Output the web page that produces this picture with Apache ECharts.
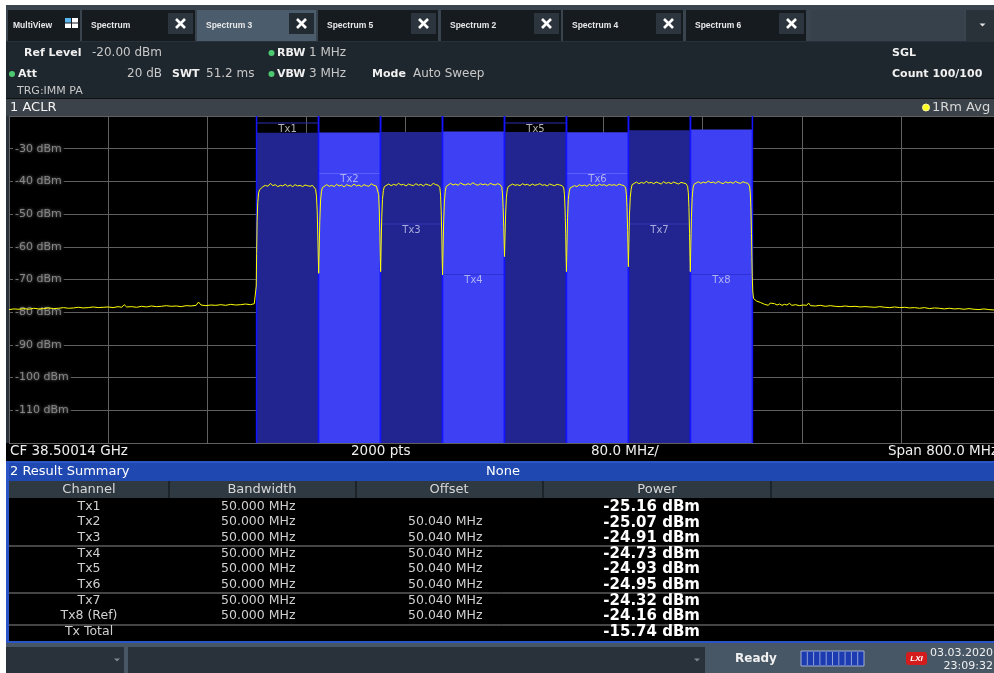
<!DOCTYPE html>
<html><head><meta charset="utf-8">
<script src="https://cdn.jsdelivr.net/npm/echarts@6/dist/echarts.min.js"></script>
<style>html,body{margin:0;padding:0;background:#fff;}#c{width:994px;height:673px;}</style>
</head><body><div id="c"></div>
<script>
// ---------- data ----------
const channelNames = ['Tx1','Tx2','Tx3','Tx4','Tx5','Tx6','Tx7','Tx8'];
const tableChannelNames = ['Tx1','Tx2','Tx3','Tx4','Tx5','Tx6','Tx7','Tx8 (Ref)','Tx Total'];
const channelCentersMHz = [-175.14,-125.10,-75.06,-25.02,25.02,75.06,125.10,175.14];
const channelBandwidthMHz = [50,50,50,50,50,50,50,50];
const bandwidthLabels = ['50.000 MHz','50.000 MHz','50.000 MHz','50.000 MHz','50.000 MHz','50.000 MHz','50.000 MHz','50.000 MHz'];
const offsetLabels = ['','50.040 MHz','50.040 MHz','50.040 MHz','50.040 MHz','50.040 MHz','50.040 MHz','50.040 MHz'];
const channelPowerDbm = [-25.16,-25.07,-24.91,-24.73,-24.93,-24.95,-24.32,-24.16];
const totalPowerDbm = -15.74;
const yAxisMin = -120, yAxisMax = -20, yAxisStep = 10;
const yTickLabels = [-110,-100,-90,-80,-70,-60,-50,-40,-30];
const xAxisMin = -400, xAxisMax = 400, xAxisStep = 80;
// trace: [offset from CF in MHz, level dBm]
const trace = [
[-400,-79.2],[-396,-79.0],[-392,-79.1],[-388,-78.9],[-384,-79.1],[-380,-78.8],[-376,-79.0],[-372,-78.9],[-368,-78.7],[-364,-78.9],[-360,-78.8],[-356,-78.6],[-352,-78.8],[-348,-78.7],[-344,-78.5],[-340,-78.7],[-336,-78.6],[-332,-78.4],[-328,-78.6],[-324,-78.5],[-320,-78.4],[-316,-78.6],[-312,-78.3],[-309,-78.5],[-307,-77.7],[-305,-78.4],[-301,-78.3],[-297,-78.5],[-293,-78.2],[-289,-78.4],[-285,-78.1],[-281,-78.3],[-277,-78.2],[-273,-78.0],[-269,-78.2],[-265,-78.1],[-261,-78.3],[-257,-78.0],[-253,-78.1],[-249,-77.9],[-247,-76.9],[-245,-77.8],[-241,-78.0],[-237,-77.8],[-233,-77.9],[-229,-77.7],[-225,-77.9],[-221,-77.6],[-217,-77.8],[-213,-77.7],[-209,-77.5],[-205,-77.7],[-202,-77.4],[-200.8,-77.2],[-200.4,-72],[-200.1,-62],[-199.7,-52],[-199.2,-46.5],[-198.5,-43.5],[-197.6,-42.5],
[-196.5,-41.9],[-195,-41.6],[-193,-41.2],[-191,-41.5],[-189,-40.6],[-187,-41.3],[-185,-41.0],[-183,-41.6],[-181,-41.2],[-179,-41.4],[-177,-40.9],[-175,-41.5],[-173,-41.1],[-171,-41.6],[-169,-41.0],[-167,-41.4],[-165,-41.2],[-163,-41.6],[-161,-41.1],[-159,-41.3],[-157,-41.5],[-155,-41.2],[-153.5,-41.6],[-152.5,-42.4],
[-151.8,-44.5],[-151.2,-49],[-150.7,-57],[-150.3,-64],[-150,-68.1],[-149.6,-61],[-149.1,-52],[-148.5,-46],[-147.8,-43.2],
[-147,-41.9],[-145.5,-41.3],[-143.5,-41.0],[-141.5,-41.5],[-139.5,-41.2],[-137.5,-41.6],[-135.5,-40.9],[-133.5,-41.4],[-131.5,-41.1],[-129.5,-41.7],[-127.5,-41.0],[-125.5,-41.3],[-123.5,-41.5],[-121.5,-40.8],[-119.5,-41.4],[-117.5,-41.1],[-115.5,-41.6],[-113.5,-41.0],[-111.5,-41.3],[-109.5,-41.5],[-107.5,-40.7],[-105.5,-41.2],[-103.5,-41.4],[-102.2,-42.0],
[-101.6,-44.0],[-101.1,-48.5],[-100.6,-56],[-100.3,-63],[-100,-67.6],[-99.6,-60],[-99.1,-51],[-98.5,-45.5],[-97.8,-42.8],
[-97,-41.6],[-95.5,-41.0],[-93.5,-40.8],[-91.5,-41.3],[-89.5,-40.9],[-87.5,-41.2],[-85.5,-40.6],[-83.5,-41.1],[-81.5,-40.9],[-79.5,-41.4],[-77.5,-40.8],[-75.5,-41.1],[-73.5,-41.3],[-71.5,-40.7],[-69.5,-41.2],[-67.5,-40.9],[-65.5,-41.4],[-63.5,-40.8],[-61.5,-41.1],[-59.5,-41.3],[-57.5,-40.6],[-55.5,-41.0],[-53.5,-41.2],[-52.2,-41.9],
[-51.6,-44.2],[-51.1,-49],[-50.6,-57],[-50.3,-64],[-50,-68.6],[-49.6,-61],[-49.1,-52],[-48.5,-46],[-47.8,-43.0],
[-47,-41.5],[-45.5,-40.9],[-43.5,-40.6],[-41.5,-41.1],[-39.5,-40.8],[-37.5,-41.2],[-35.5,-40.5],[-33.5,-40.9],[-31.5,-41.1],[-29.5,-40.7],[-27.5,-41.0],[-25.5,-40.4],[-23.5,-40.9],[-21.5,-41.2],[-19.5,-40.7],[-17.5,-41.0],[-15.5,-40.8],[-13.5,-41.2],[-11.5,-40.6],[-9.5,-40.9],[-7.5,-41.1],[-5.5,-40.7],[-3.5,-41.0],[-2.2,-41.8],
[-1.6,-43.8],[-1.1,-48],[-0.6,-54],[-0.3,-59],[0,-63.0],[0.4,-57],[0.9,-50],[1.5,-45],[2.2,-42.6],
[3,-41.6],[4.5,-41.0],[6.5,-40.8],[8.5,-41.2],[10.5,-41.0],[12.5,-41.3],[14.5,-40.7],[16.5,-41.1],[18.5,-40.9],[20.5,-41.3],[22.5,-40.8],[24.5,-41.2],[26.5,-41.0],[28.5,-40.7],[30.5,-41.2],[32.5,-41.0],[34.5,-41.4],[36.5,-40.8],[38.5,-41.1],[40.5,-41.3],[42.5,-40.9],[44.5,-41.1],[46.5,-41.3],[47.8,-42.0],
[48.4,-44.0],[48.9,-48.5],[49.4,-56],[49.7,-63],[50,-67.6],[50.4,-60],[50.9,-51],[51.5,-45.5],[52.2,-43.2],
[53,-42.0],[54.5,-41.6],[56.5,-41.3],[58.5,-41.6],[60.5,-41.0],[62.5,-41.4],[64.5,-41.1],[66.5,-41.5],[68.5,-40.9],[70.5,-41.3],[72.5,-41.0],[74.5,-41.4],[76.5,-40.8],[78.5,-41.2],[80.5,-41.0],[82.5,-41.4],[84.5,-40.9],[86.5,-41.2],[88.5,-41.0],[90.5,-41.3],[92.5,-40.8],[94.5,-41.1],[96.5,-41.3],[97.8,-42.0],
[98.4,-44.0],[98.9,-48],[99.4,-55],[99.7,-61],[100,-66.1],[100.4,-59],[100.9,-50],[101.5,-45],[102.2,-42.5],
[103,-41.0],[104.5,-40.5],[106.5,-40.2],[108.5,-40.7],[110.5,-40.3],[112.5,-40.6],[114.5,-40.0],[116.5,-40.5],[118.5,-40.3],[120.5,-40.7],[122.5,-40.2],[124.5,-40.5],[126.5,-40.8],[128.5,-40.1],[130.5,-40.6],[132.5,-40.3],[134.5,-40.7],[136.5,-40.2],[138.5,-40.5],[140.5,-40.8],[142.5,-40.3],[144.5,-40.5],[146.5,-40.7],[147.8,-41.5],
[148.4,-43.5],[148.9,-48],[149.4,-56],[149.7,-63],[150,-67.6],[150.4,-60],[150.9,-51],[151.5,-45],[152.2,-42.0],
[153,-40.9],[154.5,-40.4],[156.5,-40.1],[158.5,-40.6],[160.5,-40.2],[162.5,-40.5],[164.5,-39.9],[166.5,-40.4],[168.5,-40.2],[170.5,-40.6],[172.5,-40.0],[174.5,-40.4],[176.5,-40.7],[178.5,-40.1],[180.5,-40.5],[182.5,-40.2],[184.5,-40.6],[186.5,-40.0],[188.5,-40.4],[190.5,-40.6],[192.5,-40.1],[194.5,-40.4],[196.5,-40.6],[197.8,-41.4],
[198.4,-43.5],[198.9,-48],[199.4,-56],[199.7,-63],[200,-69],[200.4,-73.5],[201,-75.8],[202,-76.3],[203.5,-76.6],[205,-76.5],[206.5,-77.0],[208,-76.7],[210,-77.6],[211.5,-77.0],[213,-77.9],[214.5,-77.2],[216,-77.7],[218,-77.4],[220,-77.8],[222,-77.5],[224,-77.9],[226,-77.6],[228,-77.8],[230,-77.3],[232,-77.9],[235,-77.7],[238,-78.0],[241,-77.8],[244,-77.9],[245.5,-77.2],[247,-78.0],[251,-78.1],[255,-77.9],[259,-78.2],[263,-78.0],[267,-78.2],[271,-78.3],[275,-78.1],[279,-78.3],[283,-78.2],[287,-78.4],[291,-78.3],[295,-78.4],[299,-78.5],[303,-78.3],[307,-78.5],[311,-78.6],[315,-78.4],[319,-78.6],[323,-78.5],[327,-78.7],[331,-78.6],[335,-78.8],[339,-78.6],[343,-78.9],[347,-78.7],[351,-78.8],[355,-79.0],[359,-78.8],[363,-79.0],[367,-78.9],[371,-79.1],[375,-78.9],[379,-79.1],[383,-79.2],[387,-79.0],[391,-79.2],[395,-79.3],[400,-79.2]
];
const tabs = ['Spectrum','Spectrum 3','Spectrum 5','Spectrum 2','Spectrum 4','Spectrum 6'];

// ---------- chrome (graphic) ----------
const DV = '"DejaVu Sans"', LS = '"Liberation Sans"';
const G = [];
function rect(x,y,w,h,fill,z,extra){G.push(Object.assign({type:'rect',silent:true,z:z==null?-10:z,shape:{x:x,y:y,width:w,height:h},style:{fill:fill}},extra||{}));}
function txt(x,y,t,font,fill,align){G.push({type:'text',silent:true,z:-4,x:x,y:y,style:{text:t,font:font,fill:fill,textAlign:align||'left',textVerticalAlign:'middle'}});}
function ln(x1,y1,x2,y2,stroke,w,z){G.push({type:'line',silent:true,z:z==null?-6:z,shape:{x1:x1,y1:y1,x2:x2,y2:y2},style:{stroke:stroke,lineWidth:w||1}});}
function dot(cx,cy,r,fill,stroke){G.push({type:'circle',silent:true,z:-4,shape:{cx:cx,cy:cy,r:r},style:{fill:fill,stroke:stroke||null,lineWidth:1}});}
function tri(cx,cy,s,fill){G.push({type:'polygon',silent:true,z:-4,shape:{points:[[cx-s,cy-s/2],[cx+s,cy-s/2],[cx,cy+s/2]]},style:{fill:fill}});}

// whole panel
rect(6,5,988,668,'#28313a',-12);
// tab bar
rect(6,5,988,36,'#3a444e',-11);
rect(8,10,72,31,'#161b20');
txt(13,26,'MultiView','bold 8.5px '+LS,'#e8e8e8');
rect(65,18,6,4.5,'#5ab6ec',-9); rect(72,18,6,4.5,'#ffffff',-9); rect(65,23.5,6,4.5,'#ffffff',-9); rect(72,23.5,6,4.5,'#ffffff',-9);
const tabX = [82,197,318,441,563,686], tabW = [113,119,120,120,120,120];
tabs.forEach(function(t,i){
  const active = i===1;
  rect(tabX[i],10,tabW[i],31,active?'#4b5d6c':'#161b20');
  txt(tabX[i]+9,26,t,'bold 8.5px '+LS,'#e8e8e8');
  const bx = tabX[i]+tabW[i]-27;
  rect(bx,13,25,21,active?'#232b32':'#2c353d',-9);
  ln(bx+8,19,bx+17,28,'#ffffff',2.6,-3); ln(bx+17,19,bx+8,28,'#ffffff',2.6,-3);
});
rect(811,10,153,31,'#36414b');
rect(966,10,28,31,'#2a3239');
tri(982.5,25,3,'#e0e0e0');
// header info
rect(6,42,988,56,'#1f272e');
const LB = 'bold 11px '+DV, VL = '12px '+DV;
txt(24,53,'Ref Level',LB,'#f0f0f0'); txt(92,53,'-20.00 dBm',VL,'#c8c8c8');
dot(271.5,53,3,'#4cc870'); txt(277,53,'RBW',LB,'#f0f0f0'); txt(309,53,'1 MHz',VL,'#c8c8c8');
dot(12,74,3,'#4cc870'); txt(18,74,'Att',LB,'#f0f0f0'); txt(162,74,'20 dB',VL,'#c8c8c8','right');
txt(172,74,'SWT',LB,'#f0f0f0'); txt(206,74,'51.2 ms',VL,'#c8c8c8');
dot(271.5,74,3,'#4cc870'); txt(277,74,'VBW',LB,'#f0f0f0'); txt(309,74,'3 MHz',VL,'#c8c8c8');
txt(372,74,'Mode',LB,'#f0f0f0'); txt(413,74,'Auto Sweep',VL,'#c8c8c8');
txt(17,91,'TRG:IMM PA','11px '+DV,'#c8c8c8');
txt(892,53,'SGL',LB,'#f0f0f0'); txt(892,74,'Count 100/100',LB,'#f0f0f0');
// title bar 1
rect(6,98,988,1,'#111',-9);
rect(6,99,988,17,'#3b4249');
txt(10,107.5,'1 ACLR','13px '+DV,'#f4f4f4');
dot(926,107.5,3.5,'#ffff20','#fff8a0'); txt(932,107.5,'1Rm Avg','13px '+DV,'#d8d8d8');
// plot background & info line
rect(9,116,991,327,'#000000',-9);
rect(6,443,988,18,'#000000',-9);
const IF = '13.5px '+DV;
txt(10,451.5,'CF 38.50014 GHz',IF,'#f0f0f0'); txt(351,451.5,'2000 pts',IF,'#f0f0f0');
txt(591,451.5,'80.0 MHz/',IF,'#f0f0f0'); txt(998,451.5,'Span 800.0 MHz',IF,'#f0f0f0','right');
// result summary
rect(6,461,988,182,'#2a55c6',-9);
rect(9,463,985,18,'#1f48b0',-8);
txt(10,472,'2 Result Summary','13px '+DV,'#ffffff'); txt(486,472,'None','13px '+DV,'#ffffff');
rect(9,481,985,17,'#2e3942',-8);
[168,355,542,770].forEach(function(x){ rect(x,481,2,17,'#1c2329',-7); });
rect(9,498,985,143,'#000000',-8);
const HF = '13px '+DV;
txt(89,489.5,'Channel',HF,'#d8d8d8','center'); txt(262,489.5,'Bandwidth',HF,'#d8d8d8','center');
txt(449,489.5,'Offset',HF,'#d8d8d8','center'); txt(657,489.5,'Power',HF,'#d8d8d8','center');
[546,593,625].forEach(function(y){ ln(9,y,994,y,'#8a8a8a',1,-7); });
const RF = '12.5px '+DV, PF = 'bold 15px '+DV;
tableChannelNames.forEach(function(n,i){
  const y = 506.5 + i*15.65;
  txt(89,y,n,RF,'#d0d0d0','center');
  if(i<8){ txt(221,y,bandwidthLabels[i],RF,'#d0d0d0'); if(offsetLabels[i]) txt(408,y,offsetLabels[i],RF,'#d0d0d0'); }
  const p = i<8 ? channelPowerDbm[i] : totalPowerDbm;
  txt(700,y+0.5,p.toFixed(2)+' dBm',PF,'#ffffff','right');
});
// status bar
rect(6,643,988,30,'#485766',-9);
rect(6,647,118,26,'#29323a',-8); tri(117,660,3,'#7d8790');
rect(128,647,577,26,'#29323a',-8); tri(697,660,3,'#7d8790');
txt(735,659,'Ready','bold 12px '+DV,'#f0f0f0');
rect(801,651,63,15,'#1d3bb0',-8,{style:{fill:'#1d3bb0',stroke:'#9fb0d0',lineWidth:1}});
for(let k=1;k<10;k++){ ln(801+k*6.3,652,801+k*6.3,665,'#8ea2d8',1,-5); }
rect(906,652,21,13,'#d41c1c',-8,{shape:{x:906,y:652,width:21,height:13,r:3}});
txt(916.5,658.5,'LXI','italic bold 8px '+LS,'#ffffff','center');
txt(993,653,'03.03.2020','11px '+DV,'#f0f0f0','right');
txt(993,666,'23:09:32','11px '+DV,'#f0f0f0','right');

// ---------- chart ----------
const channelData = channelCentersMHz.map(function(c,i){ return [c-channelBandwidthMHz[i]/2, c+channelBandwidthMHz[i]/2, channelPowerDbm[i]]; });
const chart = echarts.init(document.getElementById('c'), null, {renderer:'canvas'});
chart.setOption({
  backgroundColor:'#ffffff',
  animation:false,
  graphic:{elements:G},
  grid:{left:9, top:116, width:991, height:327, containLabel:false, outerBoundsMode:'none'},
  xAxis:{type:'value', min:xAxisMin, max:xAxisMax, interval:xAxisStep,
    axisLabel:{show:false}, axisLine:{show:false}, axisTick:{show:false},
    splitLine:{show:true, lineStyle:{color:'#606060', width:1}}},
  yAxis:[
    {type:'value', min:yAxisMin, max:yAxisMax, interval:yAxisStep, z:0,
      axisLabel:{show:false}, axisLine:{show:false}, axisTick:{show:false},
      splitLine:{show:true, lineStyle:{color:'#606060', width:1}}},
    {type:'value', min:yAxisMin, max:yAxisMax, interval:yAxisStep, z:1, position:'left', offset:0,
      axisLine:{show:false}, axisTick:{show:false}, splitLine:{show:false},
      axisLabel:{inside:true, margin:4, color:'#858585', fontSize:11, fontFamily:'DejaVu Sans',
        customValues:yTickLabels,
        backgroundColor:'#000', padding:[1,2,1,2],
        textShadowColor:'rgba(190,190,190,0.7)', textShadowBlur:3,
        formatter:function(v){ return v+' dBm'; }}}
  ],
  series:[
    {type:'custom', z:2, silent:true, clip:true,
      dimensions:['start','end','power'], encode:{x:[0,1], y:2},
      data:channelData,
      renderItem:function(params, api){
        const i = params.dataIndex;
        const x0 = api.value(0), x1 = api.value(1), p = api.value(2);
        const tl = api.coord([x0, p]);
        const br = api.coord([x1, yAxisMin]);
        const top = api.coord([x0, yAxisMax])[1];
        const dark = i%2===0;
        const fill = dark ? '#222590' : '#3d40f3';
        const lvl = i%4;
        const ly = top + 7 + lvl*50.5;
        let lineC, textC;
        if(lvl===0){ lineC='#2b2eb0'; textC='#b4b4b4'; }
        else if(dark){ lineC='#3236b8'; textC='#a8abdc'; }
        else if(lvl===1){ lineC='#5c5fff'; textC='#aeb0f2'; }
        else { lineC='#2e31d4'; textC='#b0b2f4'; }
        const mid = (tl[0]+br[0])/2;
        return {type:'group', children:[
          {type:'rect', shape:{x:tl[0], y:tl[1], width:br[0]-tl[0], height:br[1]-tl[1]}, style:{fill:fill}},
          {type:'line', shape:{x1:tl[0], y1:ly, x2:br[0], y2:ly}, style:{stroke:lineC, lineWidth:1}},
          {type:'text', x:mid, y:ly+6, style:{text:channelNames[i], fill:textC, font:'10px "DejaVu Sans"', textAlign:'center', textVerticalAlign:'middle'}},
          {type:'line', shape:{x1:tl[0], y1:top, x2:tl[0], y2:br[1]}, style:{stroke:'#1414ff', lineWidth:1.5}},
          {type:'line', shape:{x1:br[0], y1:top, x2:br[0], y2:br[1]}, style:{stroke:'#1414ff', lineWidth:1.5}}
        ]};
      }
    },
    {type:'line', z:3, silent:true, data:trace, showSymbol:false, symbol:'none',
      lineStyle:{color:'#ffff00', width:1}, clip:true}
  ]
});
</script></body></html>
